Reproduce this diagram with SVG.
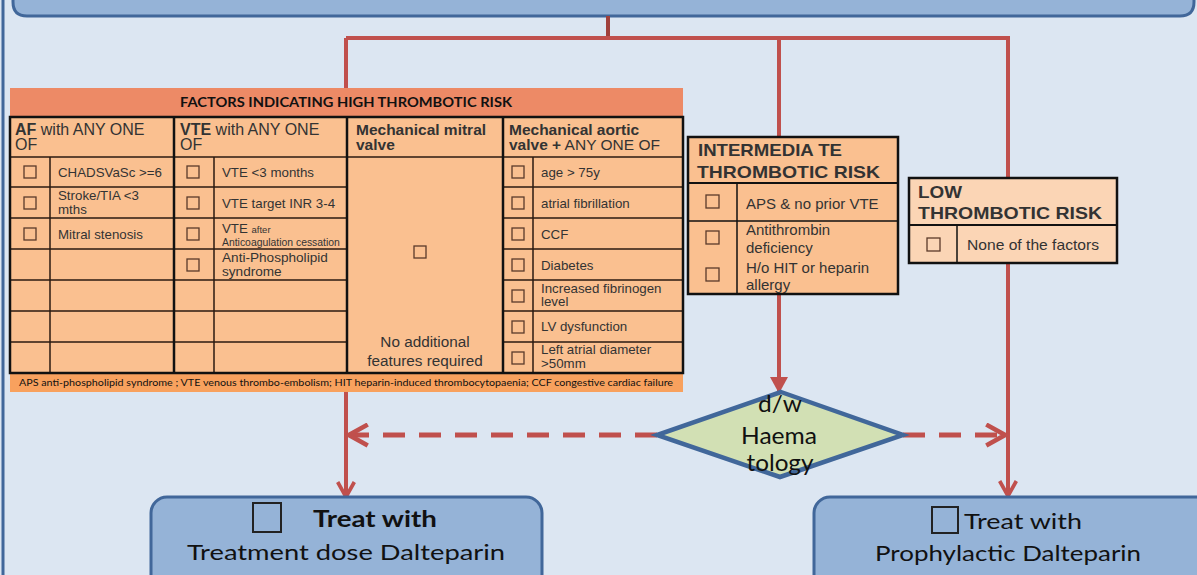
<svg xmlns="http://www.w3.org/2000/svg" width="1197" height="575" viewBox="0 0 1197 575">
<defs>
<marker id="chev" viewBox="0 0 12 12" refX="10" refY="6" markerWidth="5" markerHeight="5" orient="auto" markerUnits="strokeWidth">
<path d="M1,1 L10,6 L1,11" fill="none" stroke="#c0504d" stroke-width="2.2" stroke-linejoin="miter"/>
</marker>
<marker id="tri" viewBox="0 0 12 12" refX="10" refY="6" markerWidth="4.5" markerHeight="4.5" orient="auto" markerUnits="strokeWidth">
<path d="M0,0 L11,6 L0,12 Z" fill="#c0504d"/>
</marker>
</defs>
<style>
.bg{fill:#dce6f2}
.blue{fill:#95b3d7;stroke:#41679a;stroke-width:3}
.red{fill:none;stroke:#c0504d;stroke-width:4}
.dash{fill:none;stroke:#c0504d;stroke-width:5;stroke-dasharray:22 14}
.cell{fill:#fac090}
.grid{stroke:#2a1a10;stroke-width:1.5;fill:none}
.frame{stroke:#111;stroke-width:2.5;fill:none}
.cb{fill:none;stroke:#5a3a2a;stroke-width:1.3}
.t{font-family:"Liberation Sans",Arial,sans-serif;fill:#333}
.c{font-family:Lato,"Open Sans",sans-serif;fill:#111}
</style>
<rect class="bg" x="0" y="0" width="1197" height="575"/>
<line x1="3" y1="0" x2="3" y2="575" stroke="#41679a" stroke-width="3"/>

<g id="top-box">
<path class="blue" d="M13,-10 L13,2 Q13,16 27,16 L1180,16 Q1194,16 1194,2 L1194,-10 Z"/>
</g>

<g id="connectors">
<line x1="608" y1="16" x2="608" y2="39" stroke="#a0403c" stroke-width="4"/>
<polyline class="red" points="346,38 1008,38 1008,496" marker-end="url(#chev)"/>
<line class="red" x1="346" y1="38" x2="346" y2="497" marker-end="url(#chev)"/>
<line class="red" x1="779" y1="38" x2="779" y2="392" marker-end="url(#tri)"/>
<line class="dash" x1="657" y1="435" x2="349" y2="435" marker-end="url(#chev)"/>
<line class="dash" x1="903" y1="435" x2="1005" y2="435" marker-end="url(#chev)"/>
</g>

<g id="high-risk-table">
<rect x="10" y="88" width="673" height="29" fill="#ed8a66"/>
<text class="c" x="346" y="107" text-anchor="middle" font-size="13" font-weight="bold" textLength="332" lengthAdjust="spacingAndGlyphs">FACTORS INDICATING HIGH THROMBOTIC RISK</text>
<rect class="cell" x="10" y="117" width="673" height="256"/>
<rect x="10" y="373" width="673" height="19" fill="#f8a15e"/>
<text class="c" x="19" y="386" font-size="9" textLength="654" lengthAdjust="spacingAndGlyphs">APS anti-phospholipid syndrome ; VTE venous thrombo-embolism; HIT heparin-induced thrombocytopaenia; CCF congestive cardiac failure</text>
<g class="grid">
<line x1="10" y1="157" x2="683" y2="157"/>
<line x1="10" y1="187" x2="347" y2="187"/><line x1="503" y1="187" x2="683" y2="187"/>
<line x1="10" y1="218" x2="347" y2="218"/><line x1="503" y1="218" x2="683" y2="218"/>
<line x1="10" y1="249" x2="347" y2="249"/><line x1="503" y1="249" x2="683" y2="249"/>
<line x1="10" y1="280" x2="347" y2="280"/><line x1="503" y1="280" x2="683" y2="280"/>
<line x1="10" y1="311" x2="347" y2="311"/><line x1="503" y1="311" x2="683" y2="311"/>
<line x1="10" y1="342" x2="347" y2="342"/><line x1="503" y1="342" x2="683" y2="342"/>
<line x1="50" y1="157" x2="50" y2="373"/>
<line x1="214" y1="157" x2="214" y2="373"/>
<line x1="533" y1="157" x2="533" y2="373"/>
</g>
<g class="frame">
<rect x="10" y="117" width="673" height="256"/>
<line x1="174" y1="117" x2="174" y2="373"/>
<line x1="347" y1="117" x2="347" y2="373"/>
<line x1="503" y1="117" x2="503" y2="373"/>
</g>
<g class="t" font-size="16" fill="#222">
<text x="15" y="135"><tspan font-weight="bold">AF</tspan> with ANY ONE</text>
<text x="15" y="150">OF</text>
<text x="180" y="135"><tspan font-weight="bold">VTE</tspan> with ANY ONE</text>
<text x="180" y="150">OF</text>
<text x="356" y="135" font-weight="bold" font-size="15.5">Mechanical mitral</text>
<text x="356" y="150" font-weight="bold" font-size="15.5">valve</text>
<text x="509" y="135" font-weight="bold" font-size="15.5">Mechanical aortic</text>
<text x="509" y="150" font-size="15.5"><tspan font-weight="bold">valve +</tspan> ANY ONE OF</text>
</g>
<g class="t" font-size="13.3">
<text x="58" y="177">CHADSVaSc &gt;=6</text>
<text x="58" y="200">Stroke/TIA &lt;3</text>
<text x="58" y="214">mths</text>
<text x="58" y="239">Mitral stenosis</text>
<text x="222" y="177">VTE &lt;3 months</text>
<text x="222" y="208">VTE target INR 3-4</text>
<text x="222" y="233">VTE <tspan font-size="9.5">after</tspan></text>
<text x="222" y="246" font-size="10.4">Anticoagulation cessation</text>
<text x="222" y="262" font-size="13.6">Anti-Phospholipid</text>
<text x="222" y="276" font-size="13.6">syndrome</text>
<text x="541" y="177">age &gt; 75y</text>
<text x="541" y="208">atrial fibrillation</text>
<text x="541" y="239">CCF</text>
<text x="541" y="270">Diabetes</text>
<text x="541" y="293">Increased fibrinogen</text>
<text x="541" y="306">level</text>
<text x="541" y="331">LV dysfunction</text>
<text x="541" y="354">Left atrial diameter</text>
<text x="541" y="368">&gt;50mm</text>
<text x="425" y="347" font-size="15.3" text-anchor="middle">No additional</text>
<text x="425" y="366" font-size="15.3" text-anchor="middle">features  required</text>
</g>
<g class="cb">
<rect x="24" y="166" width="12" height="12"/>
<rect x="24" y="197" width="12" height="12"/>
<rect x="24" y="228" width="12" height="12"/>
<rect x="187" y="166" width="12" height="12"/>
<rect x="187" y="197" width="12" height="12"/>
<rect x="187" y="228" width="12" height="12"/>
<rect x="187" y="259" width="12" height="12"/>
<rect x="414" y="246" width="12" height="12"/>
<rect x="512" y="166" width="12" height="12"/>
<rect x="512" y="197" width="12" height="12"/>
<rect x="512" y="228" width="12" height="12"/>
<rect x="512" y="259" width="12" height="12"/>
<rect x="512" y="290" width="12" height="12"/>
<rect x="512" y="321" width="12" height="12"/>
<rect x="512" y="352" width="12" height="12"/>
</g>
</g>

<g id="intermediate-risk">
<rect x="688" y="137" width="210" height="157" fill="#fac090" stroke="#111" stroke-width="2.5"/>
<line x1="688" y1="183" x2="898" y2="183" stroke="#111" stroke-width="2"/>
<line x1="688" y1="221" x2="898" y2="221" stroke="#111" stroke-width="1.5"/>
<line x1="737" y1="183" x2="737" y2="294" stroke="#111" stroke-width="1.5"/>
<text class="t" x="698" y="156" font-size="17" font-weight="bold" fill="#111" textLength="144" lengthAdjust="spacingAndGlyphs">INTERMEDIA TE</text>
<text class="t" x="697" y="178" font-size="17" font-weight="bold" fill="#111" textLength="183" lengthAdjust="spacingAndGlyphs">THROMBOTIC RISK</text>
<g class="t" font-size="15" fill="#444">
<text x="746" y="209">APS &amp; no prior VTE</text>
<text x="746" y="235">Antithrombin</text>
<text x="746" y="253">deficiency</text>
<text x="746" y="273">H/o HIT or heparin</text>
<text x="746" y="290">allergy</text>
</g>
<g class="cb">
<rect x="706" y="195" width="13" height="13"/>
<rect x="706" y="231" width="13" height="13"/>
<rect x="706" y="268" width="13" height="13"/>
</g>
</g>

<g id="low-risk">
<rect x="909" y="178" width="208" height="85" fill="#fbd5b5" stroke="#111" stroke-width="2.5"/>
<line x1="909" y1="225" x2="1117" y2="225" stroke="#111" stroke-width="2"/>
<line x1="957" y1="225" x2="957" y2="263" stroke="#111" stroke-width="1.5"/>
<text class="t" x="918" y="198" font-size="16.5" font-weight="bold" fill="#111" textLength="44" lengthAdjust="spacingAndGlyphs">LOW</text>
<text class="t" x="918" y="219" font-size="16.5" font-weight="bold" fill="#111" textLength="184" lengthAdjust="spacingAndGlyphs">THROMBOTIC RISK</text>
<text class="t" x="967" y="250" font-size="15" fill="#444" textLength="132" lengthAdjust="spacingAndGlyphs">None of the factors</text>
<rect class="cb" x="927" y="238" width="13" height="13"/>
</g>

<g id="haematology-decision">
<polygon points="781,392 903,435 780,477 657,435" fill="#d2e0b4" stroke="#41679a" stroke-width="4.5"/>
<g class="c" font-size="23" text-anchor="middle" fill="#222">
<text x="780" y="412" textLength="44" lengthAdjust="spacingAndGlyphs">d/w</text>
<text x="779" y="444" textLength="76" lengthAdjust="spacingAndGlyphs">Haema</text>
<text x="780" y="471" textLength="67" lengthAdjust="spacingAndGlyphs">tology</text>
</g>
</g>

<g id="treatment-dose">
<rect class="blue" x="151" y="497" width="391" height="100" rx="16"/>
<rect x="253" y="503" width="28" height="29" fill="none" stroke="#222" stroke-width="2"/>
<text class="c" x="313" y="527" font-size="23" font-weight="bold" textLength="124" lengthAdjust="spacingAndGlyphs">Treat with</text>
<text class="c" x="346" y="560" font-size="22" text-anchor="middle" fill="#222" textLength="318" lengthAdjust="spacingAndGlyphs">Treatment dose Dalteparin</text>
</g>

<g id="prophylactic">
<rect class="blue" x="814" y="497" width="400" height="100" rx="16"/>
<rect x="932" y="507" width="26" height="26" fill="none" stroke="#222" stroke-width="2"/>
<text class="c" x="964" y="529" font-size="22" fill="#222" textLength="118" lengthAdjust="spacingAndGlyphs">Treat with</text>
<text class="c" x="1008" y="561" font-size="22" text-anchor="middle" fill="#222" textLength="266" lengthAdjust="spacingAndGlyphs">Prophylactic Dalteparin</text>
</g>
</svg>
